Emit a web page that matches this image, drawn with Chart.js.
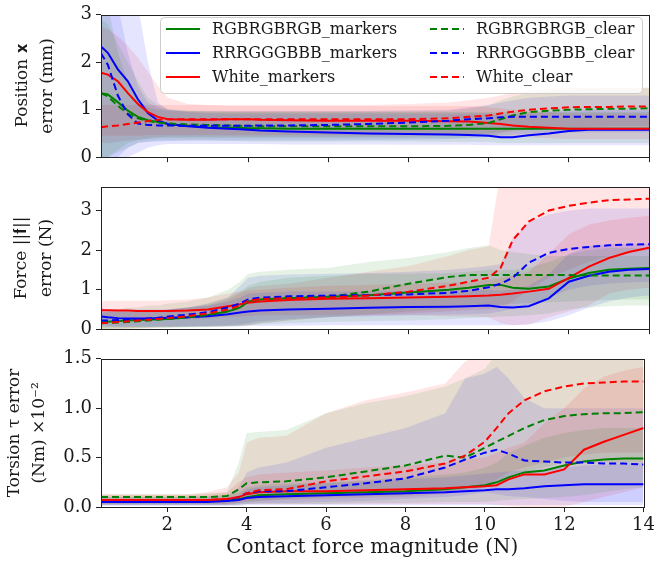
<!DOCTYPE html>
<html>
<head>
<meta charset="utf-8">
<script src="https://cdn.jsdelivr.net/npm/chart.js@4.4.1/dist/chart.umd.min.js"></script>
<style>
  body { margin:0; background:#fff; }
  #wrap { position:relative; width:658px; height:562px; }
  canvas { position:absolute; left:0; }
</style>
</head>
<body>
<div id="wrap">
  <canvas id="posChart" width="658" height="172" style="top:0px;width:658px;height:172px"></canvas>
  <canvas id="forceChart" width="658" height="172" style="top:172px;width:658px;height:172px"></canvas>
  <canvas id="torsionChart" width="658" height="218" style="top:344px;width:658px;height:218px"></canvas>
</div>
<script>
// contact force magnitude (N) - common x grid for every curve
const forceX = [0.33,0.5,0.75,1,1.25,1.5,1.75,2,2.5,3,3.5,3.8,4,4.3,5,6,7,8,9,9.5,10,10.3,10.6,11,11.5,12,12.5,13,13.5,14];
const xTicks = [2,4,6,8,10,12,14];
const posTicks = [0,1,2,3];
const frcTicks = [0,1,2,3];
const torTicks = [0,0.5,1,1.5];
const seriesNames = ["RGBRGBRGB_markers","RRRGGGBBB_markers","White_markers","RGBRGBRGB_clear","RRRGGGBBB_clear","White_clear"];

// position error (mm): mean, lower, upper
const posRgbM   = [1.35,1.32,1.16,0.98,0.85,0.78,0.74,0.70,0.66,0.63,0.62,0.62,0.61,0.61,0.60,0.60,0.60,0.60,0.60,0.60,0.60,0.60,0.60,0.60,0.60,0.60,0.60,0.60,0.60,0.60];
const posRrrM   = [2.33,2.20,1.85,1.60,1.22,0.93,0.77,0.70,0.65,0.62,0.60,0.59,0.58,0.56,0.54,0.52,0.50,0.49,0.48,0.47,0.45,0.42,0.42,0.46,0.50,0.55,0.58,0.58,0.58,0.58];
const posWhiteM = [1.78,1.74,1.60,1.35,1.12,0.95,0.85,0.80,0.79,0.79,0.80,0.80,0.80,0.79,0.78,0.77,0.77,0.77,0.76,0.75,0.72,0.70,0.67,0.64,0.62,0.60,0.60,0.60,0.60,0.60];
const posRgbC   = [1.35,1.28,1.08,0.92,0.82,0.76,0.73,0.71,0.69,0.68,0.67,0.66,0.66,0.65,0.65,0.65,0.65,0.65,0.66,0.68,0.72,0.80,0.88,0.95,0.98,1.00,1.01,1.02,1.02,1.03];
const posRrrC   = [2.19,1.95,1.30,0.90,0.71,0.68,0.67,0.67,0.66,0.66,0.66,0.66,0.66,0.67,0.67,0.68,0.70,0.73,0.77,0.80,0.82,0.84,0.85,0.85,0.85,0.85,0.85,0.85,0.85,0.85];
const posWhiteC = [0.63,0.65,0.67,0.70,0.73,0.76,0.79,0.80,0.80,0.80,0.80,0.80,0.80,0.80,0.80,0.80,0.80,0.80,0.82,0.85,0.88,0.92,0.96,1.00,1.03,1.05,1.06,1.06,1.07,1.07];
const posRgbMLo   = [0.00,0.00,0.10,0.20,0.30,0.33,0.35,0.35,0.35,0.35,0.34,0.34,0.33,0.33,0.33,0.33,0.33,0.33,0.32,0.32,0.32,0.30,0.30,0.30,0.30,0.30,0.30,0.30,0.30,0.30];
const posRgbMHi   = [2.90,2.80,2.40,2.00,1.60,1.25,1.10,1.02,0.98,0.96,0.95,0.95,0.95,0.95,0.95,0.95,0.95,0.95,0.95,0.95,0.95,0.95,0.95,0.95,0.95,0.95,0.95,0.95,0.95,0.95];
const posRrrMLo   = [0.00,0.00,0.00,0.00,0.10,0.20,0.25,0.28,0.28,0.28,0.28,0.28,0.28,0.28,0.27,0.27,0.27,0.26,0.26,0.26,0.25,0.25,0.25,0.25,0.25,0.25,0.25,0.25,0.25,0.25];
const posRrrMHi   = [3.50,3.50,3.50,3.50,3.20,2.00,1.15,1.00,0.95,0.93,0.92,0.92,0.92,0.92,0.92,0.92,0.92,0.92,0.92,0.92,0.92,0.90,0.90,0.92,0.95,0.98,1.00,1.00,1.00,1.00];
const posWhiteMLo = [0.45,0.45,0.45,0.45,0.45,0.46,0.47,0.47,0.47,0.47,0.47,0.47,0.47,0.47,0.47,0.47,0.47,0.47,0.46,0.46,0.45,0.44,0.43,0.42,0.40,0.38,0.38,0.38,0.38,0.38];
const posWhiteMHi = [2.75,2.70,2.55,2.35,2.10,1.80,1.50,1.25,1.12,1.10,1.08,1.08,1.08,1.08,1.08,1.08,1.08,1.08,1.08,1.08,1.05,1.03,1.00,0.98,0.95,0.92,0.92,0.92,0.92,0.92];
const posRgbCLo   = [0.00,0.00,0.15,0.30,0.35,0.38,0.40,0.40,0.40,0.40,0.40,0.40,0.40,0.40,0.40,0.40,0.40,0.40,0.40,0.42,0.45,0.50,0.55,0.58,0.60,0.60,0.60,0.60,0.60,0.60];
const posRgbCHi   = [3.50,3.20,2.20,1.60,1.20,1.05,1.00,0.98,0.97,0.97,0.97,0.97,0.97,0.97,0.97,0.97,0.97,0.97,0.98,1.02,1.10,1.20,1.28,1.35,1.40,1.42,1.44,1.45,1.45,1.45];
const posRrrCLo   = [0.00,0.00,0.00,0.20,0.30,0.32,0.33,0.34,0.35,0.35,0.35,0.35,0.35,0.35,0.35,0.35,0.36,0.37,0.38,0.40,0.42,0.45,0.48,0.50,0.52,0.52,0.52,0.52,0.52,0.52];
const posRrrCHi   = [3.50,3.50,3.20,2.20,1.50,1.15,1.05,1.00,0.98,0.98,0.98,0.98,0.98,0.98,0.98,0.98,0.98,0.99,1.00,1.05,1.10,1.15,1.20,1.25,1.28,1.30,1.30,1.30,1.30,1.30];
const posWhiteCLo = [0.30,0.30,0.32,0.35,0.37,0.40,0.42,0.43,0.43,0.43,0.43,0.43,0.43,0.43,0.43,0.43,0.43,0.43,0.45,0.47,0.50,0.53,0.56,0.60,0.62,0.63,0.64,0.65,0.65,0.65];
const posWhiteCHi = [1.10,1.10,1.10,1.10,1.10,1.10,1.10,1.10,1.10,1.10,1.10,1.10,1.10,1.10,1.10,1.10,1.10,1.12,1.15,1.20,1.25,1.30,1.35,1.40,1.44,1.47,1.47,1.47,1.47,1.47];

// force error (N)
const frcRgbM   = [0.18,0.19,0.21,0.22,0.23,0.24,0.25,0.26,0.30,0.36,0.45,0.55,0.70,0.75,0.78,0.82,0.86,0.93,1.00,1.05,1.12,1.12,1.05,1.02,1.08,1.28,1.42,1.50,1.53,1.55];
const frcRrrM   = [0.32,0.30,0.28,0.27,0.27,0.27,0.28,0.29,0.30,0.33,0.38,0.42,0.45,0.47,0.50,0.52,0.54,0.56,0.57,0.58,0.60,0.56,0.55,0.58,0.78,1.20,1.35,1.45,1.50,1.52];
const frcWhiteM = [0.48,0.48,0.47,0.47,0.46,0.46,0.46,0.46,0.47,0.50,0.58,0.63,0.67,0.70,0.74,0.77,0.78,0.80,0.82,0.83,0.85,0.87,0.90,0.95,1.02,1.30,1.58,1.80,1.95,2.06];
const frcRgbC   = [0.15,0.16,0.17,0.18,0.20,0.22,0.24,0.26,0.30,0.36,0.45,0.55,0.70,0.76,0.80,0.82,0.95,1.15,1.32,1.37,1.37,1.37,1.37,1.37,1.37,1.37,1.36,1.36,1.36,1.36];
const frcRrrC   = [0.22,0.22,0.23,0.24,0.25,0.27,0.29,0.32,0.37,0.43,0.55,0.65,0.75,0.80,0.83,0.85,0.86,0.88,0.92,0.97,1.06,1.15,1.30,1.68,1.93,2.03,2.08,2.12,2.14,2.15];
const frcWhiteC = [0.15,0.16,0.18,0.20,0.22,0.24,0.26,0.28,0.33,0.40,0.50,0.60,0.72,0.76,0.78,0.80,0.85,0.95,1.10,1.20,1.30,1.55,2.25,2.72,3.00,3.12,3.20,3.26,3.28,3.30];
const frcRgbMLo   = [0.02,0.02,0.02,0.02,0.02,0.02,0.03,0.03,0.04,0.05,0.07,0.08,0.10,0.12,0.15,0.18,0.20,0.22,0.25,0.28,0.30,0.32,0.33,0.35,0.40,0.50,0.55,0.58,0.60,0.60];
const frcRgbMHi   = [0.45,0.45,0.45,0.45,0.45,0.45,0.45,0.50,0.55,0.65,0.80,0.95,1.10,1.20,1.30,1.35,1.40,1.40,1.42,1.45,1.50,1.50,1.50,1.55,1.70,1.90,2.00,2.05,2.05,2.05];
const frcRrrMLo   = [0.10,0.08,0.07,0.06,0.06,0.06,0.06,0.06,0.06,0.06,0.06,0.07,0.08,0.08,0.09,0.10,0.10,0.10,0.10,0.10,0.10,0.10,0.10,0.12,0.20,0.35,0.55,0.70,0.80,0.85];
const frcRrrMHi   = [0.55,0.50,0.50,0.50,0.50,0.50,0.50,0.50,0.55,0.60,0.70,0.80,0.90,0.92,0.95,0.95,0.95,0.97,1.00,1.00,1.00,0.98,1.00,1.10,1.40,1.90,2.10,2.15,2.15,2.15];
const frcWhiteMLo = [0.25,0.25,0.25,0.25,0.25,0.25,0.25,0.25,0.25,0.27,0.30,0.32,0.33,0.35,0.35,0.35,0.35,0.35,0.33,0.32,0.30,0.15,0.10,0.12,0.30,0.45,0.60,0.90,1.00,1.05];
const frcWhiteMHi = [0.70,0.72,0.72,0.72,0.72,0.72,0.72,0.73,0.75,0.80,0.90,0.95,0.98,1.00,1.05,1.10,1.12,1.15,1.18,1.20,1.25,1.30,1.35,1.45,1.90,2.40,2.65,2.75,2.82,2.87];
const frcRgbCLo   = [0.00,0.00,0.01,0.02,0.03,0.04,0.05,0.05,0.06,0.07,0.08,0.09,0.10,0.15,0.22,0.30,0.38,0.45,0.52,0.56,0.60,0.62,0.64,0.66,0.68,0.70,0.72,0.74,0.75,0.75];
const frcRgbCHi   = [0.40,0.45,0.50,0.55,0.55,0.60,0.60,0.65,0.70,0.80,1.00,1.20,1.40,1.45,1.50,1.55,1.70,1.80,1.95,2.05,2.12,2.00,1.95,1.90,1.85,1.85,1.85,1.85,1.85,1.85];
const frcRrrCLo   = [0.05,0.05,0.05,0.05,0.05,0.05,0.06,0.06,0.07,0.08,0.10,0.12,0.15,0.20,0.25,0.30,0.32,0.35,0.37,0.38,0.40,0.45,0.52,0.60,0.80,1.00,1.10,1.15,1.18,1.20];
const frcRrrCHi   = [0.45,0.45,0.45,0.45,0.46,0.47,0.48,0.50,0.55,0.65,0.80,1.10,1.30,1.35,1.38,1.40,1.42,1.45,1.50,1.55,1.60,1.65,2.30,2.70,2.90,3.00,3.05,3.05,3.05,3.05];
const frcWhiteCLo = [0.00,0.00,0.00,0.01,0.02,0.03,0.04,0.05,0.06,0.07,0.08,0.09,0.10,0.15,0.22,0.30,0.35,0.40,0.45,0.48,0.50,0.55,0.70,1.00,1.30,1.50,1.70,1.85,1.95,2.00];
const frcWhiteCHi = [0.45,0.45,0.45,0.45,0.46,0.47,0.48,0.50,0.55,0.60,0.75,0.90,1.05,1.10,1.15,1.30,1.45,1.60,1.85,2.00,2.10,4.00,4.00,4.00,4.00,4.00,4.00,4.00,4.00,4.00];

// torsion error (Nm x 1e-2)
const torRgbM   = [0.05,0.05,0.05,0.05,0.05,0.05,0.05,0.05,0.05,0.06,0.07,0.08,0.10,0.12,0.13,0.14,0.15,0.16,0.18,0.20,0.22,0.25,0.30,0.35,0.37,0.42,0.46,0.48,0.49,0.49];
const torRrrM   = [0.05,0.05,0.05,0.05,0.05,0.05,0.05,0.05,0.05,0.05,0.06,0.07,0.09,0.10,0.11,0.12,0.13,0.14,0.15,0.16,0.17,0.18,0.18,0.19,0.21,0.22,0.23,0.23,0.23,0.23];
const torWhiteM = [0.07,0.07,0.07,0.07,0.07,0.07,0.07,0.07,0.07,0.07,0.08,0.10,0.13,0.15,0.16,0.16,0.17,0.18,0.19,0.20,0.21,0.22,0.28,0.33,0.33,0.38,0.58,0.66,0.73,0.80];
const torRgbC   = [0.10,0.10,0.10,0.10,0.10,0.10,0.10,0.10,0.10,0.10,0.11,0.18,0.24,0.25,0.26,0.30,0.36,0.42,0.52,0.50,0.60,0.66,0.72,0.80,0.88,0.92,0.94,0.95,0.95,0.96];
const torRrrC   = [0.06,0.06,0.06,0.06,0.06,0.06,0.06,0.06,0.06,0.06,0.07,0.10,0.14,0.16,0.16,0.20,0.24,0.29,0.40,0.48,0.55,0.58,0.54,0.47,0.46,0.45,0.45,0.44,0.44,0.43];
const torWhiteC = [0.07,0.07,0.07,0.07,0.07,0.07,0.07,0.07,0.07,0.07,0.08,0.10,0.14,0.17,0.18,0.26,0.31,0.36,0.44,0.52,0.66,0.80,0.95,1.08,1.17,1.22,1.25,1.26,1.27,1.27];
const torRgbMLo   = [0.02,0.02,0.02,0.02,0.02,0.02,0.02,0.02,0.02,0.02,0.02,0.02,0.03,0.03,0.03,0.03,0.04,0.04,0.05,0.05,0.05,0.06,0.07,0.08,0.09,0.10,0.12,0.15,0.18,0.20];
const torRgbMHi   = [0.10,0.10,0.10,0.10,0.10,0.10,0.10,0.10,0.10,0.11,0.12,0.15,0.20,0.22,0.24,0.25,0.27,0.30,0.33,0.35,0.40,0.45,0.55,0.62,0.70,0.75,0.78,0.80,0.80,0.80];
const torRrrMLo   = [0.01,0.01,0.01,0.01,0.01,0.01,0.01,0.01,0.01,0.01,0.01,0.01,0.02,0.02,0.02,0.02,0.02,0.02,0.02,0.02,0.02,0.02,0.02,0.02,0.02,0.02,0.02,0.02,0.02,0.02];
const torRrrMHi   = [0.08,0.08,0.08,0.08,0.08,0.08,0.08,0.08,0.08,0.08,0.09,0.12,0.18,0.20,0.22,0.24,0.26,0.28,0.30,0.32,0.34,0.35,0.36,0.37,0.38,0.40,0.42,0.43,0.44,0.45];
const torWhiteMLo = [0.02,0.02,0.02,0.02,0.02,0.02,0.02,0.02,0.02,0.02,0.02,0.02,0.03,0.03,0.03,0.03,0.03,0.03,0.03,0.03,0.03,0.02,0.01,0.00,0.00,0.00,0.05,0.10,0.15,0.20];
const torWhiteMHi = [0.12,0.12,0.12,0.12,0.12,0.12,0.12,0.12,0.12,0.13,0.15,0.25,0.30,0.33,0.35,0.37,0.40,0.42,0.45,0.48,0.50,0.55,0.60,0.65,0.85,1.00,1.20,1.32,1.38,1.42];
const torRgbCLo   = [0.03,0.03,0.03,0.03,0.03,0.03,0.03,0.03,0.03,0.03,0.03,0.04,0.05,0.06,0.08,0.10,0.11,0.12,0.15,0.18,0.20,0.25,0.30,0.35,0.40,0.45,0.45,0.45,0.45,0.45];
const torRgbCHi   = [0.13,0.13,0.13,0.13,0.13,0.13,0.13,0.13,0.13,0.14,0.15,0.45,0.75,0.76,0.78,0.95,1.05,1.12,1.22,1.30,1.40,1.55,1.60,1.60,1.60,1.60,1.60,1.60,1.60,1.60];
const torRrrCLo   = [0.02,0.02,0.02,0.02,0.02,0.02,0.02,0.02,0.02,0.02,0.02,0.03,0.03,0.04,0.04,0.05,0.06,0.08,0.10,0.12,0.15,0.13,0.11,0.10,0.08,0.06,0.05,0.05,0.05,0.05];
const torRrrCHi   = [0.10,0.10,0.10,0.10,0.10,0.10,0.10,0.10,0.10,0.11,0.12,0.20,0.35,0.40,0.45,0.60,0.70,0.80,0.95,1.30,1.35,1.42,1.30,1.10,1.00,1.00,1.00,1.00,1.00,1.00];
const torWhiteCLo = [0.03,0.03,0.03,0.03,0.03,0.03,0.03,0.03,0.03,0.03,0.03,0.04,0.05,0.06,0.07,0.08,0.09,0.10,0.13,0.16,0.20,0.28,0.35,0.40,0.45,0.50,0.53,0.55,0.55,0.55];
const torWhiteCHi = [0.13,0.13,0.13,0.13,0.13,0.13,0.13,0.13,0.13,0.15,0.20,0.35,0.65,0.70,0.72,0.95,1.08,1.16,1.25,1.47,1.60,1.60,1.60,1.60,1.60,1.60,1.60,1.60,1.60,1.60];

window.onload = function(){
var serif = "'DejaVu Serif', serif";
var tickFont = {family: serif, size: 18};
var ink = '#1a1a1a';
//green, blue, red as in matplotlib 'g','b','r'
var lineCol = ['#008000','#0000ff','#ff0000','#008000','#0000ff','#ff0000'];
var bandCol = ['rgba(0,128,0,0.1)','rgba(0,0,255,0.1)','rgba(255,0,0,0.1)','rgba(0,128,0,0.1)','rgba(0,0,255,0.1)','rgba(255,0,0,0.1)'];

function pts(arr){
  return forceX.map(function(x,i){ return {x:x, y:arr[i]}; });
}

// means = 6 arrays, bands = 6 [lo,hi] pairs, same order as seriesNames
function buildSets(means, bands){
  var sets = [];
  for (var i=0;i<6;i++){
    sets.push({label:'', data:pts(bands[i][0]), borderWidth:0, borderColor:'rgba(0,0,0,0)', pointRadius:0, fill:false, order:20+i});
    sets.push({label:'', data:pts(bands[i][1]), borderWidth:0, borderColor:'rgba(0,0,0,0)', pointRadius:0, fill:'-1', backgroundColor:bandCol[i], order:20+i});
  }
  for (var j=0;j<6;j++){
    sets.push({label:seriesNames[j], data:pts(means[j]), borderColor:lineCol[j], borderWidth:2,
      borderDash: j>=3 ? [7,4] : [], pointRadius:0, fill:false, tension:0, order:5-j, isMean:true});
  }
  return sets;
}

// full box around the plot like matplotlib spines
var framePlugin = {
  id:'frame',
  afterDraw: function(chart){
    var a = chart.chartArea, c = chart.ctx;
    c.save();
    c.strokeStyle = '#222';
    c.lineWidth = 1;
    c.strokeRect(Math.round(a.left)+0.5, Math.round(a.top)+0.5, Math.round(a.right-a.left), Math.round(a.bottom-a.top));
    c.restore();
  }
};

// two column legend inside the top panel
var legendPlugin = {
  id:'twoColLegend',
  afterDraw: function(chart){
    var c = chart.ctx;
    var means = chart.data.datasets.filter(function(d){ return d.isMean; });
    c.save();
    c.beginPath();
    c.roundRect(160.5, 17.5, 482, 76, 4);
    c.fillStyle = 'rgba(255,255,255,0.8)';
    c.fill();
    c.strokeStyle = '#cccccc';
    c.lineWidth = 1;
    c.stroke();
    c.font = "16px " + serif;
    c.textBaseline = 'middle';
    c.fillStyle = ink;
    means.forEach(function(d,k){
      var col = Math.floor(k/3), row = k%3;
      var lx = col ? 430 : 166, ty = 29 + row*24;
      c.beginPath();
      c.strokeStyle = d.borderColor;
      c.lineWidth = 2;
      c.setLineDash(d.borderDash);
      c.moveTo(lx, ty); c.lineTo(lx+34, ty);
      c.stroke();
      c.setLineDash([]);
      c.fillText(d.label, lx+46, ty+1);
    });
    c.restore();
  }
};

function panelOptions(opt){
  return {
    responsive:false,
    animation:false,
    events:[],
    layout:{autoPadding:false, padding:{left:0, right:9, top:opt.top, bottom:0}},
    plugins:{legend:{display:false}, tooltip:{enabled:false}},
    scales:{
      x:{
        type:'linear', min:0.33, max:14,
        afterBuildTicks:function(s){ s.ticks = xTicks.map(function(v){ return {value:v}; }); },
        afterFit:function(s){ s.height = opt.xHeight; },
        border:{display:false},
        grid:{drawOnChartArea:false, drawTicks:true, tickLength:5, color:'#222'},
        ticks:{display:opt.xLabels, font:tickFont, color:ink, padding:3, maxRotation:0},
        title:{display:opt.xLabels, text:'Contact force magnitude (N)', font:{family:serif, size:20}, color:ink, padding:{top:0, bottom:2}}
      },
      y:{
        min:0, max:opt.yMax,
        afterBuildTicks:function(s){ s.ticks = opt.yTicks.map(function(v){ return {value:v}; }); },
        afterFit:function(s){ s.width = 101; },
        border:{display:false},
        grid:{drawOnChartArea:false, drawTicks:true, tickLength:5, color:'#222'},
        ticks:{font:tickFont, color:ink, padding:4, callback:opt.fmt},
        title:{display:true, text:opt.yTitle, font:{family:serif, size:17, lineHeight:1.42}, color:ink, padding:{top:opt.titlePad, bottom:0}}
      }
    }
  };
}

var posChart = new Chart(document.getElementById('posChart').getContext('2d'), {
  type:'line',
  data:{datasets: buildSets(
    [posRgbM,posRrrM,posWhiteM,posRgbC,posRrrC,posWhiteC],
    [[posRgbMLo,posRgbMHi],[posRrrMLo,posRrrMHi],[posWhiteMLo,posWhiteMHi],[posRgbCLo,posRgbCHi],[posRrrCLo,posRrrCHi],[posWhiteCLo,posWhiteCHi]])},
  options: panelOptions({top:10, xHeight:7, xLabels:false, yMax:3, yTicks:posTicks, yTitle:['Position \u{1D431}','error (mm)'], titlePad:11, fmt:function(v){ return v; }}),
  plugins:[framePlugin, legendPlugin]
});

var forceChart = new Chart(document.getElementById('forceChart').getContext('2d'), {
  type:'line',
  data:{datasets: buildSets(
    [frcRgbM,frcRrrM,frcWhiteM,frcRgbC,frcRrrC,frcWhiteC],
    [[frcRgbMLo,frcRgbMHi],[frcRrrMLo,frcRrrMHi],[frcWhiteMLo,frcWhiteMHi],[frcRgbCLo,frcRgbCHi],[frcRrrCLo,frcRrrCHi],[frcWhiteCLo,frcWhiteCHi]])},
  options: panelOptions({top:8, xHeight:8, xLabels:false, yMax:3.6, yTicks:frcTicks, yTitle:['Force ||\u{1D41F}||','error (N)'], titlePad:10, fmt:function(v){ return v; }}),
  plugins:[framePlugin]
});

var torsionChart = new Chart(document.getElementById('torsionChart').getContext('2d'), {
  type:'line',
  data:{datasets: buildSets(
    [torRgbM,torRrrM,torWhiteM,torRgbC,torRrrC,torWhiteC],
    [[torRgbMLo,torRgbMHi],[torRrrMLo,torRrrMHi],[torWhiteMLo,torWhiteMHi],[torRgbCLo,torRgbCHi],[torRrrCLo,torRrrCHi],[torWhiteCLo,torWhiteCHi]])},
  options: panelOptions({top:8, xHeight:55, xLabels:true, yMax:1.5, yTicks:torTicks, yTitle:['Torsion \u03C4 error','(Nm) \u00D710\u207B\u00B2'], titlePad:3, fmt:function(v){ return v.toFixed(1); }}),
  plugins:[framePlugin]
});
}
</script>
</body>
</html>
